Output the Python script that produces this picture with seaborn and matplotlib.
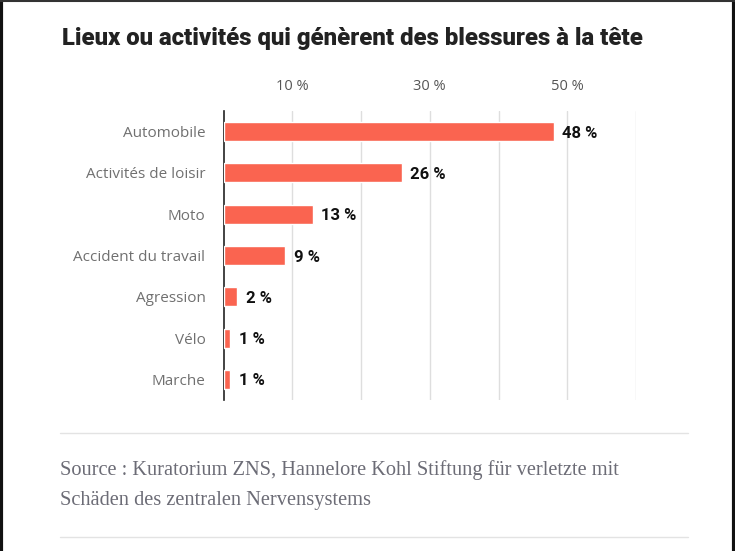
import matplotlib
matplotlib.use('Agg')
import matplotlib.pyplot as plt
import seaborn as sns
import pandas as pd
from matplotlib.lines import Line2D

categories = ['Automobile', 'Activités de loisir', 'Moto', 'Accident du travail',
              'Agression', 'Vélo', 'Marche']
values = [48, 26, 13, 9, 2, 1, 1]
tick_values = [10, 30, 50]
tick_labels = ['10 %', '30 %', '50 %']
title = 'Lieux ou activités qui génèrent des blessures à la tête'
source_lines = ['Source\u00a0: Kuratorium ZNS, Hannelore Kohl Stiftung für verletzte mit',
                'Schäden des zentralen Nervensystems']

sns.set_style('white')
plt.rcParams['font.family'] = ['Open Sans', 'DejaVu Sans']

df = pd.DataFrame({'categorie': categories, 'valeur': values})

fig = plt.figure(figsize=(7.35, 5.51), dpi=100)
ax = fig.add_axes([223.5 / 735, 1 - 400 / 551, (636 - 223.5) / 735, (400 - 111) / 551])

sns.barplot(data=df, x='valeur', y='categorie', color='#fa6450', width=0.46,
            saturation=1, ax=ax, zorder=3)

ax.set_xlim(0, 60)
ax.set_ylim(6.5, -0.5)
ax.set_xlabel('')
ax.set_ylabel('')

# grid lines every 10, labels only 10/30/50
for g in range(10, 61, 10):
    ax.axvline(g, color='#dedede', lw=1, zorder=1)
ax.xaxis.tick_top()
ax.set_xticks(tick_values)
ax.set_xticklabels(tick_labels, fontsize=10.5, color='#555555')
ax.tick_params(axis='x', length=0, pad=12)

ax.set_yticks(range(len(categories)))
ax.set_yticklabels(categories, fontsize=11, color='#707070')
ax.tick_params(axis='y', which='major', length=0, pad=13)
ax.set_yticks([i + 0.5 for i in range(len(categories) - 1)], minor=True)
ax.tick_params(axis='y', which='minor', length=8, color='#c8c8c8', width=1)

for s in ['top', 'right', 'bottom']:
    ax.spines[s].set_visible(False)
ax.spines['left'].set_color('#222222')
ax.spines['left'].set_linewidth(1.2)

for i, v in enumerate(values):
    ax.text(v + 1.2, i, f'{v} %', va='center_baseline', ha='left', fontsize=12,
            fontweight='bold', color='#111111', zorder=4,
            family=['Roboto', 'DejaVu Sans'])

fig.text(62 / 735, 1 - 38 / 551, title, fontsize=17.2, fontweight='heavy',
         color='#222222', va='center', ha='left',
         family=['Roboto', 'DejaVu Sans'])

fig.add_artist(Line2D([60 / 735, 688 / 735], [1 - 433 / 551] * 2, color='#e3e3e3', lw=1))
fig.add_artist(Line2D([60 / 735, 688 / 735], [1 - 537 / 551] * 2, color='#e3e3e3', lw=1))
for k, line in enumerate(source_lines):
    fig.text(60 / 735, 1 - (470 + 31 * k) / 551, line, fontsize=14.7, color='#6c6c76',
             va='center', ha='left', family=['Liberation Serif', 'DejaVu Serif'])

# screenshot frame
fig.add_artist(Line2D([1 / 735] * 2, [0, 1], color='#111111', lw=3))
fig.add_artist(Line2D([734 / 735] * 2, [0, 1], color='#111111', lw=3))
fig.add_artist(Line2D([0, 1], [550 / 551] * 2, color='#333333', lw=1.5))

plt.savefig('out.png', dpi=100)
